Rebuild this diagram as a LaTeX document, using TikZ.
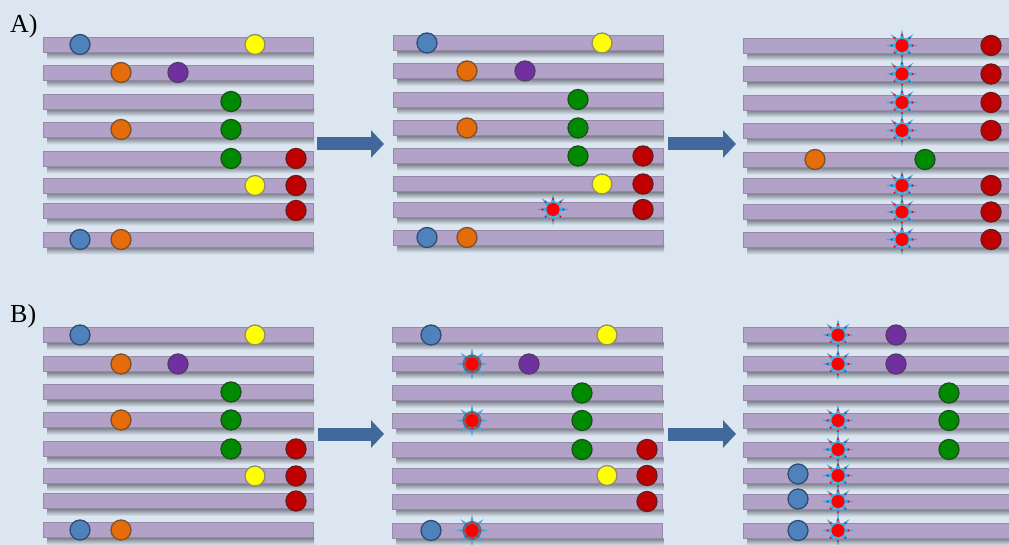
\documentclass[tikz,border=0pt]{standalone}
\usepackage{fontspec}
\setmainfont{Liberation Serif}
\usetikzlibrary{shapes.geometric,arrows.meta}

\definecolor{bg}{HTML}{DCE6F1}
\definecolor{barfill}{HTML}{B3A2C7}
\definecolor{barline}{HTML}{968AA8}
\definecolor{shadowgray}{HTML}{767B84}
\definecolor{arrowblue}{HTML}{41689B}
\definecolor{sblue}{HTML}{4F81BD}
\definecolor{syellow}{HTML}{FFFF00}
\definecolor{sorange}{HTML}{E46C0A}
\definecolor{spurple}{HTML}{7030A0}
\definecolor{sgreen}{HTML}{008A00}
\definecolor{sred}{HTML}{C00000}
\definecolor{spike}{HTML}{3FA9E0}
\definecolor{ring}{HTML}{5E7082}

\tikzset{
  bar/.style={rectangle, fill=barfill, draw=barline, line width=0.5pt,
    minimum width=270pt, minimum height=15pt, inner sep=0pt},
  barshadow/.style={top color=shadowgray, bottom color=bg, draw=none},
  snp/.style 2 args={circle, minimum size=20pt, inner sep=0pt,
    line width=1.3pt, fill=#1, draw=#2},
  bluedot/.style={snp={sblue}{sblue!60!black}},
  yellowdot/.style={snp={syellow}{gray!80!olive}},
  orangedot/.style={snp={sorange}{sorange!55!black!70!gray}},
  purpledot/.style={snp={spurple}{spurple!60!black!70!gray}},
  greendot/.style={snp={sgreen}{sgreen!50!black!80!gray}},
  reddot/.style={snp={sred}{sred!55!black!80!gray}},
  mutspike/.style={star, star points=8, star point ratio=2.6,
    minimum size=32pt, inner sep=0pt, fill=spike},
  mutcore/.style={circle, fill=red, minimum size=13pt, inner sep=0pt},
  mutring/.style={circle, fill=ring, minimum size=19pt, inner sep=0pt},
  bigarrow/.style={draw=arrowblue, line width=13pt,
    -{Triangle[length=13pt,width=27pt]}},
  panellabel/.style={anchor=base west, inner sep=0pt, font=\fontsize{26}{28}\selectfont}
}

% one chromosome bar with its soft shadow underneath: name, centre x, centre y
\newcommand\chrom[3]{%
  \shade[barshadow] ({#2-131},{#3+7.5}) rectangle ({#2+136},{#3+15});
  \node[bar] (#1) at (#2,#3) {};}
% a point mutation: light blue spikes with red marks round a red core
\newcommand\mutstar[3]{%
  \node[mutspike] (#1) at (#2,#3) {};
  \foreach \a in {0,45,...,315} \fill[red] (#1.center) ++(\a:10.5) circle (1.1);
  \node[mutcore] at (#1.center) {};}
% the same mutation sitting on a darker ring
\newcommand\mutring[3]{%
  \node[mutspike] (#1) at (#2,#3) {};
  \node[mutring] at (#1.center) {};
  \foreach \a in {0,45,...,315} \fill[red!70!ring] (#1.center) ++(\a:8) circle (1);
  \node[mutcore] at (#1.center) {};}

\begin{document}
\begin{tikzpicture}[x=1pt,y=-1pt]
\fill[bg] (0,0) rectangle (1009,545);
\useasboundingbox (0,0) rectangle (1009,545);
\clip (0,0) rectangle (1009,545);

\node[panellabel] (labA) at (10,33) {A)};
\node[panellabel] (labB) at (10,322) {B)};

% ---------------- A, left ----------------
\foreach \r/\y in {1/44.5,2/72.5,3/101.5,4/129.5,5/158.5,6/185.5,7/210.5,8/239.5}
  {\chrom{aL\r}{178}{\y}}
\node[bluedot]   (aL1a) at (80,44.5) {};
\node[yellowdot] (aL1b) at (255,44.5) {};
\node[orangedot] (aL2a) at (121,72.5) {};
\node[purpledot] (aL2b) at (178,72.5) {};
\node[greendot]  (aL3a) at (231,101.5) {};
\node[orangedot] (aL4a) at (121,129.5) {};
\node[greendot]  (aL4b) at (231,129.5) {};
\node[greendot]  (aL5a) at (231,158.5) {};
\node[reddot]    (aL5b) at (296,158.5) {};
\node[yellowdot] (aL6a) at (255,185.5) {};
\node[reddot]    (aL6b) at (296,185.5) {};
\node[reddot]    (aL7a) at (296,210.5) {};
\node[bluedot]   (aL8a) at (80,239.5) {};
\node[orangedot] (aL8b) at (121,239.5) {};

% ---------------- A, middle ----------------
\foreach \r/\y in {1/43,2/71,3/99.5,4/128,5/156,6/184,7/209.5,8/237.5}
  {\chrom{aM\r}{528}{\y}}
\node[bluedot]   (aM1a) at (427,43) {};
\node[yellowdot] (aM1b) at (602,43) {};
\node[orangedot] (aM2a) at (467,71) {};
\node[purpledot] (aM2b) at (525,71) {};
\node[greendot]  (aM3a) at (578,99.5) {};
\node[orangedot] (aM4a) at (467,128) {};
\node[greendot]  (aM4b) at (578,128) {};
\node[greendot]  (aM5a) at (578,156) {};
\node[reddot]    (aM5b) at (643,156) {};
\node[yellowdot] (aM6a) at (602,184) {};
\node[reddot]    (aM6b) at (643,184) {};
\mutstar{aM7a}{553}{209.5}
\node[reddot]    (aM7b) at (643,209.5) {};
\node[bluedot]   (aM8a) at (427,237.5) {};
\node[orangedot] (aM8b) at (467,237.5) {};

% ---------------- A, right ----------------
\foreach \r/\y in {1/45.5,2/74,3/102.5,4/130.5,5/159.5,6/185.5,7/212,8/239.5}
  {\chrom{aR\r}{878}{\y}}
\foreach \r/\y in {1/45.5,2/74,3/102.5,4/130.5,6/185.5,7/212,8/239.5}{
  \mutstar{aR\r a}{902}{\y}
  \node[reddot] (aR\r b) at (991,\y) {};}
\node[orangedot] (aR5a) at (815,159.5) {};
\node[greendot]  (aR5b) at (925,159.5) {};

% ---------------- B, left ----------------
\foreach \r/\y in {1/335,2/364,3/392,4/420,5/449,6/476,7/501,8/530}
  {\chrom{bL\r}{178}{\y}}
\node[bluedot]   (bL1a) at (80,335) {};
\node[yellowdot] (bL1b) at (255,335) {};
\node[orangedot] (bL2a) at (121,364) {};
\node[purpledot] (bL2b) at (178,364) {};
\node[greendot]  (bL3a) at (231,392) {};
\node[orangedot] (bL4a) at (121,420) {};
\node[greendot]  (bL4b) at (231,420) {};
\node[greendot]  (bL5a) at (231,449) {};
\node[reddot]    (bL5b) at (296,449) {};
\node[yellowdot] (bL6a) at (255,476) {};
\node[reddot]    (bL6b) at (296,476) {};
\node[reddot]    (bL7a) at (296,501) {};
\node[bluedot]   (bL8a) at (80,530) {};
\node[orangedot] (bL8b) at (121,530) {};

% ---------------- B, middle ----------------
\foreach \r/\y in {1/335,2/364,3/393,4/420.5,5/449.5,6/475.5,7/501.5,8/530.5}
  {\chrom{bM\r}{527.5}{\y}}
\node[bluedot]   (bM1a) at (431,335) {};
\node[yellowdot] (bM1b) at (607,335) {};
\mutring{bM2a}{472}{364}
\node[purpledot] (bM2b) at (529,364) {};
\node[greendot]  (bM3a) at (582,393) {};
\mutring{bM4a}{472}{420.5}
\node[greendot]  (bM4b) at (582,420.5) {};
\node[greendot]  (bM5a) at (582,449.5) {};
\node[reddot]    (bM5b) at (647,449.5) {};
\node[yellowdot] (bM6a) at (607,475.5) {};
\node[reddot]    (bM6b) at (647,475.5) {};
\node[reddot]    (bM7a) at (647,501.5) {};
\node[bluedot]   (bM8a) at (431,530.5) {};
\mutring{bM8b}{472}{530.5}

% ---------------- B, right ----------------
\foreach \r/\y in {1/335,2/364,3/393,4/420.5,5/449.5,6/475.5,7/501.5,8/530.5}
  {\chrom{bR\r}{878}{\y}}
\mutstar{bR1a}{838}{335}
\node[purpledot] (bR1b) at (896,335) {};
\mutstar{bR2a}{838}{364}
\node[purpledot] (bR2b) at (896,364) {};
\node[greendot]  (bR3a) at (949,393) {};
\mutstar{bR4a}{838}{420.5}
\node[greendot]  (bR4b) at (949,420.5) {};
\mutstar{bR5a}{838}{449.5}
\node[greendot]  (bR5b) at (949,449.5) {};
\node[bluedot]   (bR6a) at (798,474) {};
\mutstar{bR6b}{838}{475.5}
\node[bluedot]   (bR7a) at (798,499) {};
\mutstar{bR7b}{838}{501.5}
\node[bluedot]   (bR8a) at (798,530.5) {};
\mutstar{bR8b}{838}{530.5}

% ---------------- arrows between stages ----------------
\coordinate (arA1s) at (317,144);  \coordinate (arA1e) at (384,144);
\coordinate (arA2s) at (668,144);  \coordinate (arA2e) at (736,144);
\coordinate (arB1s) at (318,434);  \coordinate (arB1e) at (384,434);
\coordinate (arB2s) at (668,434);  \coordinate (arB2e) at (736,434);
\draw[bigarrow] (arA1s) -- (arA1e);
\draw[bigarrow] (arA2s) -- (arA2e);
\draw[bigarrow] (arB1s) -- (arB1e);
\draw[bigarrow] (arB2s) -- (arB2e);
\end{tikzpicture}
\end{document}
